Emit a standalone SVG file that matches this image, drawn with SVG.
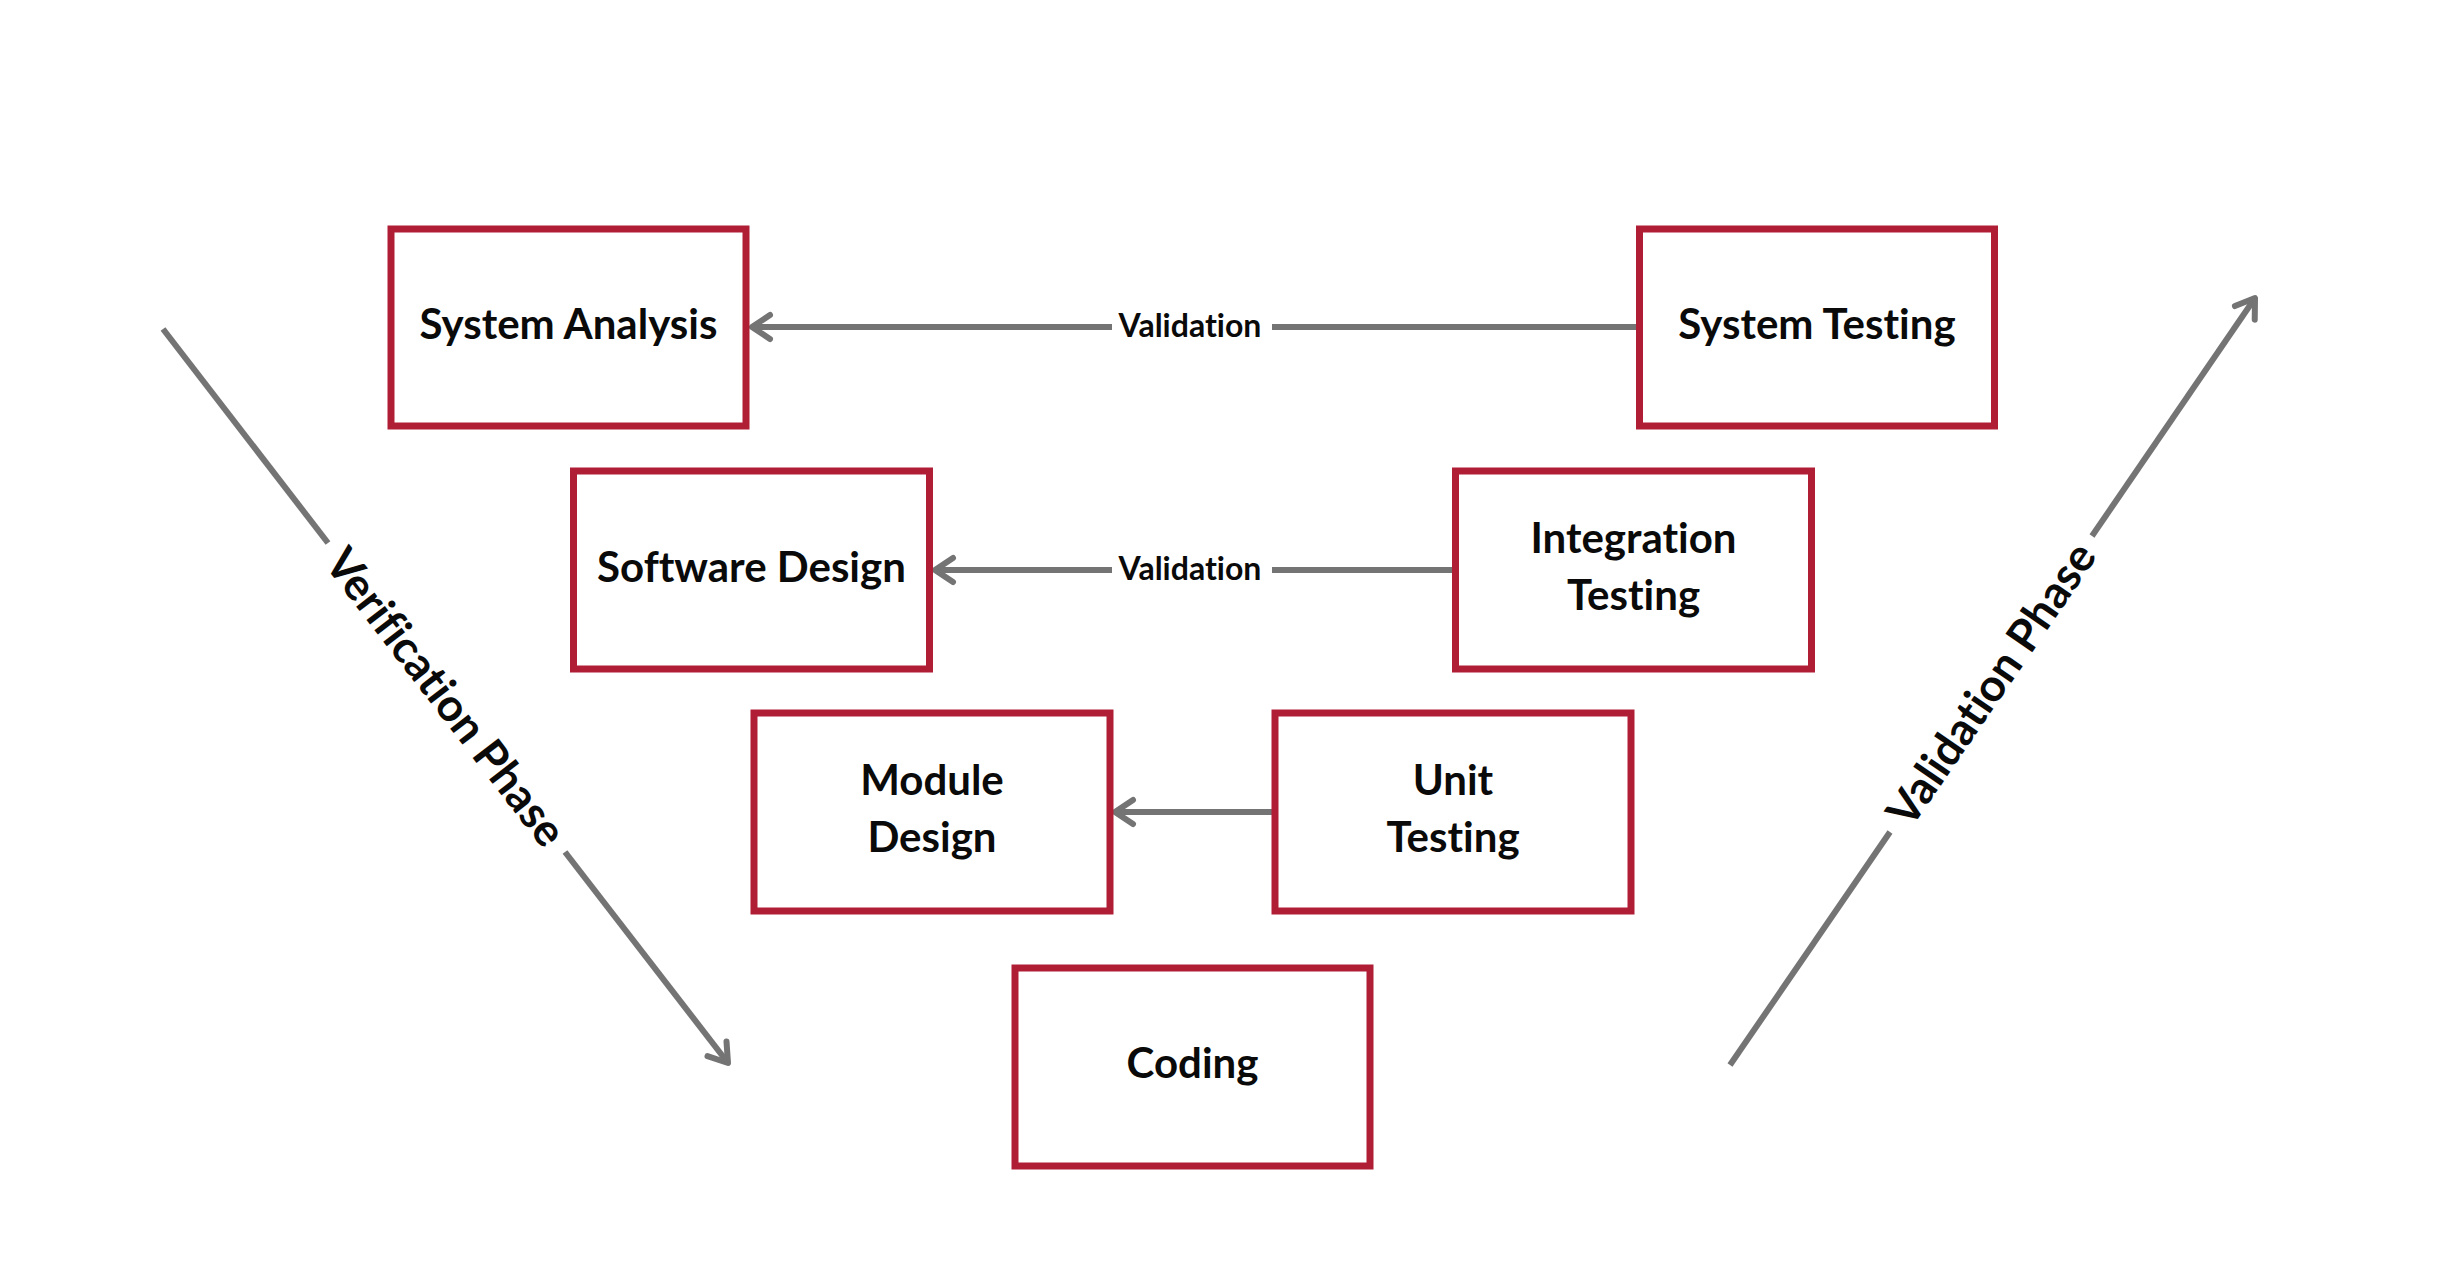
<svg xmlns="http://www.w3.org/2000/svg" width="2448" height="1287" viewBox="0 0 2448 1287">
  <style>
    text { font-variant-ligatures: none; font-feature-settings: "liga" 0, "clig" 0; }
    .box { fill: #ffffff; stroke: #b01e36; stroke-width: 7; }
    .lbl { font-family: Lato, "Open Sans", sans-serif; font-weight: bold; font-size: 42px; fill: #0a0a0a; text-anchor: middle; }
    .small { font-family: Lato, "Open Sans", sans-serif; font-weight: bold; font-size: 32px; fill: #0a0a0a; text-anchor: middle; }
    .phase { font-family: Lato, "Open Sans", sans-serif; font-weight: bold; font-size: 45px; fill: #0a0a0a; text-anchor: middle; }
    .conn { fill: none; stroke: #747474; stroke-width: 6; stroke-linecap: butt; }
  </style>
  <defs>
    <marker id="arrow" markerUnits="userSpaceOnUse" markerWidth="40" markerHeight="40" viewBox="-30 -20 40 40" refX="0" refY="0" orient="auto">
      <path d="M -18 -12 L 0 0 L -18 12" fill="none" stroke="#747474" stroke-width="6" stroke-linecap="round" stroke-linejoin="round"/>
    </marker>
  </defs>
  <rect x="0" y="0" width="2448" height="1287" fill="#ffffff"/>

  <g id="connectors">
    <line class="conn" x1="1636" y1="327" x2="1272" y2="327"/>
    <line class="conn" x1="1112" y1="327" x2="752" y2="327" marker-end="url(#arrow)"/>
    <text class="small" x="1190" y="337">Validation</text>

    <line class="conn" x1="1452" y1="570" x2="1272" y2="570"/>
    <line class="conn" x1="1112" y1="570" x2="935" y2="570" marker-end="url(#arrow)"/>
    <text class="small" x="1190" y="580">Validation</text>

    <line class="conn" x1="1272" y1="812" x2="1115" y2="812" marker-end="url(#arrow)"/>

    <line class="conn" x1="163" y1="329" x2="328" y2="543"/>
    <line class="conn" x1="565" y1="852" x2="728" y2="1063" marker-end="url(#arrow)"/>
    <text class="phase" transform="translate(446,697) rotate(52.4)" x="0" y="16">Verification Phase</text>

    <line class="conn" x1="1730" y1="1065" x2="1890" y2="832"/>
    <line class="conn" x1="2092" y1="536" x2="2255" y2="298" marker-end="url(#arrow)"/>
    <text class="phase" transform="translate(1991,684) rotate(-55.6)" x="0" y="16">Validation Phase</text>
  </g>

  <g id="system-analysis">
    <rect class="box" x="391" y="229" width="355" height="197"/>
    <text class="lbl" x="568.5" y="339">System Analysis</text>
  </g>
  <g id="system-testing">
    <rect class="box" x="1639.5" y="229" width="355" height="197"/>
    <text class="lbl" x="1817" y="339">System Testing</text>
  </g>
  <g id="software-design">
    <rect class="box" x="573.5" y="471" width="356" height="198"/>
    <text class="lbl" x="751.5" y="582">Software Design</text>
  </g>
  <g id="integration-testing">
    <rect class="box" x="1455.5" y="471" width="356" height="198"/>
    <text class="lbl" x="1633.5" y="553">Integration</text>
    <text class="lbl" x="1633.5" y="610">Testing</text>
  </g>
  <g id="module-design">
    <rect class="box" x="754" y="713" width="356" height="198"/>
    <text class="lbl" x="932" y="795">Module</text>
    <text class="lbl" x="932" y="852">Design</text>
  </g>
  <g id="unit-testing">
    <rect class="box" x="1275" y="713" width="356" height="198"/>
    <text class="lbl" x="1453" y="795">Unit</text>
    <text class="lbl" x="1453" y="852">Testing</text>
  </g>
  <g id="coding">
    <rect class="box" x="1015" y="968" width="355" height="198"/>
    <text class="lbl" x="1192.5" y="1078">Coding</text>
  </g>
</svg>
